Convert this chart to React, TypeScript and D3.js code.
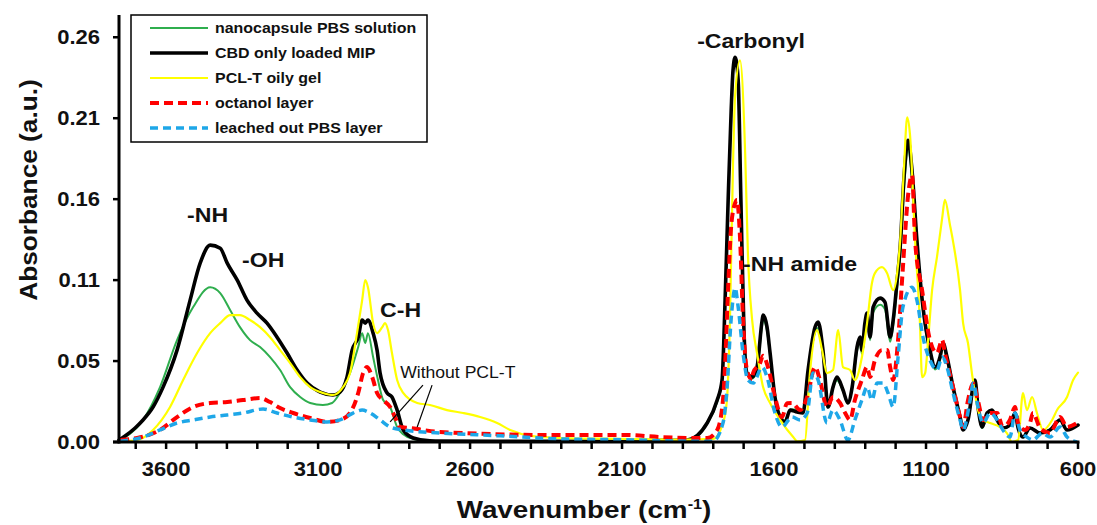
import React from 'react';
import * as d3 from 'd3';

const WIDTH = 1097;
const HEIGHT = 525;

// Axis set-up
const X_DOMAIN: [number, number] = [3755, 600];
const Y_DOMAIN: [number, number] = [0, 0.275];
const X_MAJOR_TICKS = [3600, 3100, 2600, 2100, 1600, 1100, 600];
const X_MINOR_TICKS = d3.range(3700, 599, -100);
const Y_TICKS = [0, 0.0525, 0.105, 0.1575, 0.21, 0.2625];
const Y_TICK_LABELS = ['0.00', '0.05', '0.11', '0.16', '0.21', '0.26'];

type Pt = [number, number]; // [wavenumber cm-1, absorbance]

const nanocapsulePBS: Pt[] = [
  [3751, 0.0013], [3676, 0.0143], [3620, 0.0356], [3564, 0.0661], [3511, 0.0875], [3455, 0.1004],
  [3422, 0.0966], [3389, 0.0855], [3357, 0.0745], [3324, 0.0661], [3291, 0.0616], [3258, 0.0551],
  [3225, 0.0467], [3192, 0.0356], [3159, 0.0292], [3126, 0.0253], [3084, 0.024], [3054, 0.0253],
  [3028, 0.0318], [2995, 0.0447], [2968, 0.0616], [2955, 0.0706], [2945, 0.0642], [2936, 0.0706],
  [2919, 0.0551], [2903, 0.0402], [2886, 0.0272], [2863, 0.0227], [2840, 0.0097], [2820, 0.005],
  [2787, 0.002], [2732, 0.0005], [2300, 0.0005], [2000, 0.001], [1886, 0.0013], [1820, 0.012],
  [1787, 0.026], [1771, 0.039], [1761, 0.09], [1751, 0.155], [1741, 0.213], [1735, 0.239],
  [1728, 0.247], [1718, 0.232], [1709, 0.155], [1699, 0.071], [1689, 0.044], [1672, 0.041],
  [1656, 0.047], [1639, 0.076], [1636, 0.079], [1623, 0.072], [1613, 0.056], [1597, 0.029],
  [1580, 0.017], [1564, 0.014], [1547, 0.021], [1524, 0.021], [1505, 0.019], [1488, 0.045],
  [1465, 0.071], [1455, 0.074], [1439, 0.057], [1422, 0.023], [1406, 0.035], [1393, 0.04],
  [1373, 0.033], [1357, 0.025], [1343, 0.035], [1327, 0.059], [1317, 0.065], [1311, 0.057],
  [1301, 0.074], [1294, 0.08], [1284, 0.066], [1274, 0.084], [1251, 0.089], [1235, 0.086],
  [1218, 0.065], [1208, 0.076], [1195, 0.1], [1185, 0.12], [1172, 0.165], [1159, 0.19],
  [1146, 0.17], [1130, 0.127], [1110, 0.085], [1087, 0.058], [1070, 0.047], [1054, 0.053],
  [1044, 0.062], [1031, 0.053], [1011, 0.034], [988, 0.016], [978, 0.008], [962, 0.014],
  [939, 0.039], [929, 0.022], [915, 0.009], [899, 0.018], [883, 0.02], [866, 0.014],
  [847, 0.009], [824, 0.011], [807, 0.018], [797, 0.009], [781, 0.003], [758, 0.009],
  [725, 0.006], [692, 0.008], [659, 0.014], [636, 0.008], [600, 0.011],
];

const cbdLoadedMIP: Pt[] = [
  [3755, 0.0013], [3735, 0.0039], [3702, 0.0091], [3676, 0.0143], [3643, 0.0227], [3610, 0.0356],
  [3564, 0.0596], [3521, 0.092], [3488, 0.116], [3455, 0.1277], [3422, 0.1257], [3399, 0.116],
  [3366, 0.105], [3334, 0.092], [3301, 0.0836], [3268, 0.0771], [3235, 0.068], [3202, 0.0577],
  [3169, 0.0467], [3136, 0.0382], [3093, 0.0324], [3051, 0.0305], [3028, 0.0324], [3005, 0.0421],
  [2988, 0.0596], [2968, 0.068], [2955, 0.0791], [2945, 0.0771], [2936, 0.0791], [2919, 0.0706],
  [2906, 0.0596], [2896, 0.0447], [2873, 0.0318], [2857, 0.0292], [2840, 0.0207], [2820, 0.0078],
  [2787, 0.0026], [2732, 0.0007], [2500, 0.0005], [2200, 0.0005], [2000, 0.001], [1886, 0.0013],
  [1820, 0.0123], [1787, 0.0272], [1771, 0.0402], [1761, 0.092], [1751, 0.1568], [1741, 0.2151],
  [1735, 0.241], [1728, 0.2495], [1718, 0.2346], [1709, 0.1568], [1699, 0.0726], [1689, 0.0447],
  [1672, 0.0421], [1656, 0.0486], [1639, 0.0791], [1636, 0.0823], [1623, 0.0745], [1613, 0.0577],
  [1597, 0.0292], [1580, 0.0162], [1564, 0.013], [1547, 0.0207], [1524, 0.0194], [1505, 0.0188],
  [1488, 0.0467], [1465, 0.0745], [1455, 0.0778], [1439, 0.0596], [1422, 0.0227], [1406, 0.0356],
  [1393, 0.0421], [1373, 0.0337], [1357, 0.0253], [1343, 0.0356], [1327, 0.0616], [1317, 0.068],
  [1311, 0.0596], [1301, 0.0771], [1294, 0.0836], [1284, 0.068], [1274, 0.0875], [1251, 0.0933],
  [1235, 0.0907], [1218, 0.068], [1208, 0.0791], [1195, 0.105], [1185, 0.1264], [1172, 0.173],
  [1159, 0.1957], [1146, 0.176], [1130, 0.1309], [1110, 0.0875], [1087, 0.0596], [1070, 0.0486],
  [1054, 0.0551], [1044, 0.0642], [1031, 0.0551], [1011, 0.0356], [988, 0.0162], [978, 0.0078],
  [962, 0.0143], [939, 0.0402], [929, 0.0227], [915, 0.0097], [899, 0.0188], [883, 0.0207],
  [866, 0.0143], [847, 0.0091], [824, 0.011], [807, 0.0188], [797, 0.0091], [781, 0.0032],
  [758, 0.0091], [725, 0.0058], [692, 0.0078], [659, 0.0143], [636, 0.0078], [600, 0.011],
];

const pclTOilyGel: Pt[] = [
  [3755, 0.0005], [3695, 0.0013], [3643, 0.0078], [3587, 0.0227], [3544, 0.0402], [3498, 0.0577],
  [3455, 0.0706], [3422, 0.0771], [3389, 0.0823], [3357, 0.0823], [3324, 0.0791], [3291, 0.0745],
  [3258, 0.068], [3225, 0.0596], [3192, 0.0512], [3159, 0.0421], [3126, 0.0356], [3084, 0.0318],
  [3051, 0.0305], [3018, 0.0356], [2995, 0.0447], [2972, 0.0706], [2955, 0.092], [2945, 0.105],
  [2936, 0.1004], [2919, 0.0771], [2906, 0.0706], [2889, 0.0745], [2880, 0.0771], [2870, 0.0726],
  [2857, 0.0577], [2840, 0.0402], [2820, 0.0318], [2774, 0.0253], [2732, 0.024], [2676, 0.0207],
  [2623, 0.0188], [2567, 0.0162], [2511, 0.0123], [2468, 0.0078], [2400, 0.004], [2300, 0.0026],
  [2100, 0.002], [1900, 0.0015], [1800, 0.002], [1768, 0.0123], [1755, 0.0272], [1745, 0.08],
  [1735, 0.18], [1728, 0.225], [1712, 0.2475], [1695, 0.1873], [1686, 0.1225], [1672, 0.0791],
  [1656, 0.0577], [1636, 0.0356], [1613, 0.0253], [1580, 0.0143], [1537, 0.0032], [1524, 0.0005],
  [1498, 0.0013], [1482, 0.0447], [1459, 0.0726], [1442, 0.0596], [1426, 0.0447], [1406, 0.0467],
  [1389, 0.0726], [1373, 0.0486], [1350, 0.0467], [1334, 0.0402], [1311, 0.055], [1294, 0.0771],
  [1278, 0.103], [1268, 0.1095], [1245, 0.1134], [1228, 0.1095], [1208, 0.0985], [1195, 0.1095],
  [1185, 0.1309], [1172, 0.18], [1162, 0.2106], [1153, 0.2], [1136, 0.1309], [1120, 0.0771],
  [1113, 0.0421], [1103, 0.0447], [1093, 0.0661], [1080, 0.0985], [1064, 0.1199], [1047, 0.145],
  [1038, 0.157], [1021, 0.1406], [1011, 0.13], [988, 0.0985], [978, 0.0771], [962, 0.0642],
  [949, 0.0447], [929, 0.0207], [912, 0.0143], [889, 0.0123], [857, 0.0097], [834, 0.0058],
  [817, 0.0], [797, 0.0013], [781, 0.0317], [768, 0.0207], [751, 0.0292], [735, 0.0188],
  [715, 0.0078], [685, 0.0143], [669, 0.0207], [636, 0.0292], [616, 0.0402], [600, 0.045],
];

const octanolLayer: Pt[] = [
  [3751, 0.0013], [3695, 0.0026], [3620, 0.0078], [3564, 0.0162], [3511, 0.0227], [3455, 0.0253],
  [3399, 0.0259], [3347, 0.0272], [3291, 0.0285], [3258, 0.0259], [3225, 0.022], [3182, 0.0188],
  [3126, 0.0156], [3070, 0.013], [3028, 0.0143], [2995, 0.0188], [2968, 0.0318], [2952, 0.0447],
  [2939, 0.0486], [2922, 0.0421], [2906, 0.0318], [2886, 0.0272], [2863, 0.0227], [2847, 0.0162],
  [2830, 0.0097], [2797, 0.0091], [2755, 0.0078], [2699, 0.0065], [2304, 0.0045], [2084, 0.0045],
  [1975, 0.0032], [1866, 0.0026], [1820, 0.0026], [1787, 0.0078], [1768, 0.0272], [1761, 0.05],
  [1751, 0.1], [1741, 0.14], [1728, 0.155], [1722, 0.157], [1712, 0.1328], [1702, 0.079],
  [1689, 0.0467], [1672, 0.0402], [1669, 0.0447], [1646, 0.0512], [1636, 0.056], [1620, 0.0486],
  [1597, 0.0292], [1574, 0.0162], [1557, 0.0252], [1541, 0.0253], [1514, 0.0207], [1491, 0.0292],
  [1465, 0.0486], [1449, 0.0402], [1426, 0.0227], [1406, 0.0292], [1383, 0.0253], [1366, 0.0188],
  [1350, 0.0143], [1334, 0.0272], [1311, 0.0402], [1294, 0.0486], [1284, 0.0421], [1268, 0.0531],
  [1245, 0.0596], [1228, 0.0596], [1218, 0.0486], [1208, 0.0402], [1192, 0.0661], [1176, 0.1134],
  [1159, 0.16], [1146, 0.1731], [1136, 0.1309], [1113, 0.0985], [1087, 0.0661], [1064, 0.0577],
  [1047, 0.0661], [1038, 0.0577], [1011, 0.0356], [988, 0.0162], [978, 0.0097], [962, 0.027],
  [945, 0.038], [929, 0.0267], [912, 0.0143], [889, 0.0188], [866, 0.0188], [847, 0.0097],
  [824, 0.0143], [807, 0.0227], [797, 0.0123], [774, 0.0078], [758, 0.0123], [748, 0.0188],
  [725, 0.0091], [692, 0.0058], [659, 0.0162], [636, 0.0097], [603, 0.0123],
];

const leachedPBSLayer: Pt[] = [
  [3751, 0.0005], [3676, 0.0032], [3620, 0.0078], [3564, 0.0123], [3511, 0.0143], [3455, 0.0162],
  [3399, 0.0175], [3347, 0.0188], [3281, 0.0214], [3235, 0.0188], [3182, 0.0162], [3126, 0.0143],
  [3070, 0.013], [3028, 0.0143], [2985, 0.0188], [2955, 0.0207], [2929, 0.0188], [2896, 0.0143],
  [2863, 0.0097], [2820, 0.0078], [2755, 0.0065], [2699, 0.0058], [2500, 0.004], [2304, 0.002],
  [2100, 0.0015], [1866, 0.0005], [1801, 0.0005], [1768, 0.0123], [1755, 0.0337], [1741, 0.08],
  [1728, 0.1], [1718, 0.0875], [1702, 0.0577], [1686, 0.0402], [1669, 0.0382], [1639, 0.0486],
  [1623, 0.0421], [1597, 0.0188], [1574, 0.0097], [1541, 0.0162], [1514, 0.0143], [1491, 0.0188],
  [1472, 0.0447], [1455, 0.0402], [1426, 0.0123], [1406, 0.0207], [1383, 0.0143], [1357, 0.0013],
  [1334, 0.0143], [1311, 0.0272], [1294, 0.0356], [1278, 0.0272], [1261, 0.0382], [1241, 0.0382],
  [1225, 0.0318], [1208, 0.0227], [1192, 0.055], [1176, 0.0875], [1146, 0.1004], [1130, 0.092],
  [1110, 0.068], [1087, 0.0531], [1064, 0.0467], [1047, 0.0551], [1031, 0.0486], [1011, 0.0318],
  [988, 0.0143], [978, 0.0078], [955, 0.0272], [945, 0.0382], [929, 0.0227], [912, 0.0123],
  [889, 0.0188], [866, 0.0143], [847, 0.0078], [824, 0.0032], [807, 0.0188], [791, 0.0078],
  [768, 0.0032], [748, 0.0013], [718, 0.0058], [692, 0.0032], [659, 0.0097], [636, 0.0032],
  [603, 0.0],
];

interface Series {
  name: string;
  data: Pt[];
  color: string;
  width: number;
  dash?: string;
}

// Drawing order: later series sit on top
const SERIES: Series[] = [
  { name: 'nanocapsule PBS solution', data: nanocapsulePBS, color: '#2fae4e', width: 2 },
  { name: 'CBD only loaded MIP', data: cbdLoadedMIP, color: '#000000', width: 3.6 },
  { name: 'PCL-T oily gel', data: pclTOilyGel, color: '#ffff00', width: 2.2 },
  { name: 'octanol layer', data: octanolLayer, color: '#ff0000', width: 4, dash: '9,5' },
  { name: 'leached out PBS layer', data: leachedPBSLayer, color: '#1ea7e8', width: 3.5, dash: '8,5' },
];

// Peak labels, placed in data units
const PEAK_LABELS: { text: string; w: number; a: number; size: number; weight: string }[] = [
  { text: '-NH', w: 3531, a: 0.1426, size: 21, weight: 'bold' },
  { text: '-OH', w: 3350, a: 0.1134, size: 21, weight: 'bold' },
  { text: 'C-H', w: 2896, a: 0.081, size: 21, weight: 'bold' },
  { text: '-Carbonyl', w: 1853, a: 0.2555, size: 21, weight: 'bold' },
  { text: '-NH amide', w: 1702, a: 0.1108, size: 21, weight: 'bold' },
  { text: 'Without PCL-T', w: 2830, a: 0.0415, size: 16, weight: 'normal' },
];

const POINTERS: { from: Pt; to: Pt }[] = [
  { from: [2755, 0.0369], to: [2863, 0.013] },
  { from: [2725, 0.0369], to: [2774, 0.0097] },
];

const FONT = '"Liberation Sans", Arial, sans-serif';
const STRETCH = 1.1;
const INK = '#111';

export default function App() {
  const x = d3.scaleLinear().domain(X_DOMAIN).range([119, 1078]);
  const y = d3.scaleLinear().domain(Y_DOMAIN).range([442, 18]);
  const line = d3
    .line<Pt>()
    .x((d) => x(d[0]))
    .y((d) => y(d[1]))
    .curve(d3.curveMonotoneX);

  const axisX0 = x(X_DOMAIN[0]);
  const axisX1 = x(X_DOMAIN[1]);
  const axisY0 = y(0);

  const legendRows = SERIES.map((s, i) => ({ ...s, row: i }));

  return (
    <svg
      width={WIDTH}
      height={HEIGHT}
      style={{ position: 'absolute', left: 0, top: 0, background: '#fff' }}
      fontFamily={FONT}
    >
      {/* spectra */}
      {SERIES.map((s) => (
        <path
          key={s.name}
          d={line(s.data) || ''}
          fill="none"
          stroke={s.color}
          strokeWidth={s.width}
          strokeDasharray={s.dash}
          strokeLinejoin="round"
          strokeLinecap={s.dash ? 'butt' : 'round'}
        />
      ))}

      {/* peak annotations */}
      {POINTERS.map((p, i) => (
        <line
          key={i}
          x1={x(p.from[0])}
          y1={y(p.from[1])}
          x2={x(p.to[0])}
          y2={y(p.to[1])}
          stroke="#000"
          strokeWidth={1.2}
        />
      ))}
      {PEAK_LABELS.map((l) => (
        <text
          key={l.text}
          transform={`translate(${x(l.w)},${y(l.a)}) scale(${STRETCH},1)`}
          fontSize={l.size}
          fontWeight={l.weight}
          fill={INK}
        >
          {l.text}
        </text>
      ))}

      {/* y axis */}
      <line x1={axisX0} x2={axisX0} y1={y(Y_DOMAIN[1]) - 3} y2={axisY0 + 1.5} stroke="#000" strokeWidth={3} />
      {Y_TICKS.map((t, i) => (
        <g key={t}>
          <line x1={axisX0 - 6} x2={axisX0} y1={y(t)} y2={y(t)} stroke="#000" strokeWidth={2.5} />
          <text
            transform={`translate(${axisX0 - 19},${y(t) + 7}) scale(${STRETCH},1)`}
            textAnchor="end"
            fontSize={20}
            fontWeight="bold"
            fill={INK}
          >
            {Y_TICK_LABELS[i]}
          </text>
        </g>
      ))}

      {/* x axis */}
      <line x1={axisX0 - 6} x2={axisX1 + 1.5} y1={axisY0} y2={axisY0} stroke="#000" strokeWidth={3} />
      {X_MINOR_TICKS.map((t) => (
        <line key={t} x1={x(t)} x2={x(t)} y1={axisY0} y2={axisY0 + 7} stroke="#000" strokeWidth={2.5} />
      ))}
      {X_MAJOR_TICKS.map((t) => (
        <text
          key={t}
          transform={`translate(${x(t)},${axisY0 + 34}) scale(${STRETCH},1)`}
          textAnchor="middle"
          fontSize={20}
          fontWeight="bold"
          fill={INK}
        >
          {t}
        </text>
      ))}

      {/* axis titles */}
      <text
        transform={`translate(584,${axisY0 + 76}) scale(1.16,1)`}
        textAnchor="middle"
        fontSize={24}
        fontWeight="bold"
        fill={INK}
      >
        Wavenumber (cm
        <tspan fontSize={14} dy={-9}>-1</tspan>
        <tspan dy={9}>)</tspan>
      </text>
      <text
        transform={`translate(37,190) rotate(-90) scale(1.14,1)`}
        textAnchor="middle"
        fontSize={23}
        fontWeight="bold"
        fill={INK}
      >
        Absorbance (a.u.)
      </text>

      {/* legend */}
      <g transform="translate(131,15)">
        <rect x={0} y={0} width={296} height={127} fill="#fff" stroke="#000" strokeWidth={1.5} />
        {legendRows.map((s) => (
          <g key={s.name} transform={`translate(0,${13 + s.row * 25})`}>
            <line
              x1={19}
              x2={77}
              y1={0}
              y2={0}
              stroke={s.color}
              strokeWidth={s.width}
              strokeDasharray={s.dash}
            />
            <text
              transform={`translate(84,5) scale(1.14,1)`}
              fontSize={14}
              fontWeight="bold"
              fill={INK}
            >
              {s.name}
            </text>
          </g>
        ))}
      </g>
    </svg>
  );
}
